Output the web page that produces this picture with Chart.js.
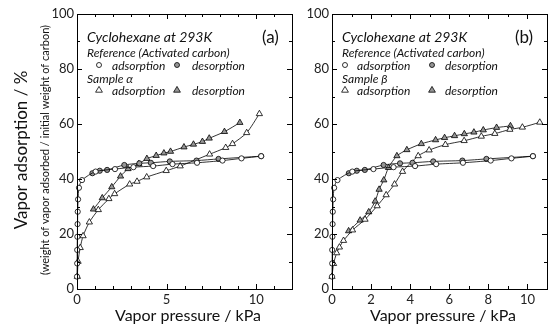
<!DOCTYPE html>
<html>
<head>
<meta charset="utf-8">
<script src="https://cdn.jsdelivr.net/npm/chart.js@4.4.1/dist/chart.umd.min.js"></script>
<style>
  html, body { margin: 0; padding: 0; background: #fff; }
  #wrap { position: relative; width: 553px; height: 329px; }
  #boxA { position: absolute; left: 0; top: 0; width: 305px; height: 329px; }
  #boxB { position: absolute; left: 305px; top: 0; width: 248px; height: 329px; }
</style>
</head>
<body>
<div id="wrap">
  <div id="boxA"><canvas id="chartA" width="305" height="329"></canvas></div>
  <div id="boxB"><canvas id="chartB" width="248" height="329"></canvas></div>
</div>
<script>
// reference activated carbon (same in both panels)
const refAdsP = [0.00, 0.01, 0.01, 0.02, 0.03, 0.04, 0.06, 0.11, 0.28, 1.04, 2.12, 3.15, 4.25, 5.33, 6.70, 8.12, 9.18, 10.28];
const refAdsV = [4.5, 9.3, 14.2, 19.0, 23.6, 28.1, 32.6, 36.8, 39.6, 42.7, 43.6, 44.3, 44.7, 45.4, 45.9, 46.7, 47.5, 48.3];
const refDesP = [10.28, 7.90, 6.67, 5.18, 4.12, 3.48, 2.64, 1.68, 1.27, 0.86];
const refDesV = [48.3, 47.3, 46.7, 46.4, 45.9, 45.7, 45.1, 43.3, 43.0, 42.1];

// sample alpha
const alphaAdsP = [0.02, 0.06, 0.18, 0.34, 0.69, 1.19, 1.78, 2.10, 2.94, 3.35, 3.89, 4.98, 5.76, 7.40, 8.30, 8.68, 9.47, 10.18];
const alphaAdsV = [4.5, 10.0, 15.0, 19.3, 24.3, 28.8, 32.8, 34.6, 38.1, 39.1, 40.7, 43.0, 44.7, 49.0, 51.4, 52.8, 56.8, 63.7];
const alphaDesP = [9.09, 8.23, 7.38, 7.00, 6.50, 5.97, 5.22, 4.85, 4.42, 3.90, 3.45, 2.85, 2.43, 1.94, 1.41, 0.92];
const alphaDesV = [60.5, 57.2, 54.8, 53.6, 52.6, 51.6, 50.0, 49.4, 48.5, 47.4, 45.5, 43.7, 41.0, 37.1, 33.1, 29.0];

// sample beta
const betaAdsP = [0.00, 0.08, 0.24, 0.38, 0.59, 1.05, 1.69, 2.31, 2.77, 3.20, 3.61, 4.41, 4.97, 5.80, 6.76, 7.64, 8.33, 9.10, 9.74, 10.63];
const betaAdsV = [4.5, 9.2, 13.1, 15.2, 17.6, 21.4, 25.3, 30.2, 34.2, 38.1, 42.7, 48.4, 50.5, 52.5, 53.9, 55.5, 56.5, 58.0, 58.8, 60.6];
const betaDesP = [9.13, 8.42, 7.74, 7.26, 6.77, 6.27, 5.76, 5.30, 4.57, 3.83, 3.32, 2.89, 2.65, 2.41, 2.21, 1.88, 1.44, 0.85];
const betaDesV = [59.3, 58.7, 57.8, 57.0, 56.4, 55.7, 55.0, 54.2, 52.8, 50.6, 48.4, 44.1, 39.6, 36.2, 31.9, 28.0, 25.0, 21.1];

const GRAY = 'rgb(150,150,150)';
const FONT = 'Lato';
Chart.defaults.font.family = FONT;

function pts(px, vs) {
    return px.map((p, i) => ({x: p, y: vs[i]}));
}

function series(px, vs, style, fill, r) {
    return {
        data: pts(px, vs),
        showLine: true,
        borderColor: '#000',
        borderWidth: 0.8,
        tension: 0.25,
        pointStyle: style,
        pointRadius: r,
        pointBorderWidth: 0.8,
        pointBorderColor: '#000',
        pointBackgroundColor: fill,
        clip: false
    };
}

// frame + inward ticks on all four sides
const frameTicks = {
    id: 'frameTicks',
    afterDatasetsDraw(chart, args, opts) {
        const {ctx, chartArea: a, scales: {x, y}} = chart;
        ctx.save();
        ctx.strokeStyle = '#000';
        ctx.lineWidth = 1;
        ctx.strokeRect(Math.round(a.left) + 0.5, Math.round(a.top) + 0.5,
            Math.round(a.right - a.left), Math.round(a.bottom - a.top));
        ctx.beginPath();
        for (let v = 0; v <= opts.xMax; v++) {
            const px = Math.round(x.getPixelForValue(v)) + 0.5;
            const len = v % opts.xMajor === 0 ? 5 : 3;
            ctx.moveTo(px, a.bottom); ctx.lineTo(px, a.bottom - len);
            ctx.moveTo(px, a.top); ctx.lineTo(px, a.top + len);
        }
        for (let v = 0; v <= 100; v += 10) {
            const py = Math.round(y.getPixelForValue(v)) + 0.5;
            const len = v % 20 === 0 ? 5 : 3;
            ctx.moveTo(a.left, py); ctx.lineTo(a.left + len, py);
            ctx.moveTo(a.right, py); ctx.lineTo(a.right - len, py);
        }
        ctx.stroke();
        ctx.restore();
    }
};

function marker(ctx, kind, x, y, fill) {
    ctx.beginPath();
    if (kind === 'circle') {
        ctx.arc(x, y, 2.5, 0, Math.PI * 2);
    } else {
        ctx.moveTo(x, y - 3.6);
        ctx.lineTo(x + 3.4, y + 2.2);
        ctx.lineTo(x - 3.4, y + 2.2);
        ctx.closePath();
    }
    ctx.fillStyle = fill;
    ctx.fill();
    ctx.lineWidth = 0.8;
    ctx.strokeStyle = '#000';
    ctx.stroke();
}

// in-plot key and axis titles, positions in canvas px
const notes = {
    id: 'notes',
    afterDraw(chart, args, o) {
        const ctx = chart.ctx;
        ctx.save();
        ctx.fillStyle = '#111';
        ctx.textBaseline = 'middle';
        ctx.textAlign = 'left';
        ctx.font = 'italic 14px ' + FONT;
        ctx.fillText('Cyclohexane at 293K', o.x0, 37);
        ctx.font = '17px ' + FONT;
        ctx.fillText(o.tag, o.tagX, 38);
        ctx.font = 'italic 12px ' + FONT;
        ctx.fillText('Reference (Activated carbon)', o.x0, 53);
        ctx.fillText(o.sample, o.x0, 79);
        ctx.fillText('adsorption', o.x1, 66);
        ctx.fillText('desorption', o.x3, 66);
        ctx.fillText('adsorption', o.x1, 91);
        ctx.fillText('desorption', o.x3, 91);
        marker(ctx, 'circle', o.m1, 65, '#fff');
        marker(ctx, 'circle', o.m2, 65, GRAY);
        marker(ctx, 'tri', o.m1, 90, '#fff');
        marker(ctx, 'tri', o.m2, 90, GRAY);

        ctx.fillStyle = '#111';
        ctx.textAlign = 'center';
        ctx.font = '16px ' + FONT;
        ctx.fillText('Vapor pressure / kPa', o.xt, 316);
        if (o.yTitle) {
            ctx.translate(22, 150);
            ctx.rotate(-Math.PI / 2);
            ctx.font = '17px ' + FONT;
            ctx.fillText('Vapor adsorption / %', 0, 0);
            ctx.font = '11px ' + FONT;
            ctx.fillText('(weight of vapor adsorbed / initial weight of carbon)', 0, 23);
        }
        ctx.restore();
    }
};

function makeChart(id, sample, xMax, xMajor, yWidth, padRight, notesOpts) {
    return new Chart(document.getElementById(id), {
        type: 'scatter',
        data: {
            datasets: [
                series(refAdsP, refAdsV, 'circle', '#fff', 2.6),
                series(refDesP, refDesV, 'circle', GRAY, 2.6),
                series(sample.adsP, sample.adsV, 'triangle', '#fff', 3.6),
                series(sample.desP, sample.desV, 'triangle', GRAY, 3.6)
            ]
        },
        options: {
            responsive: false,
            animation: false,
            devicePixelRatio: 1,
            layout: {padding: {top: 14, right: padRight, left: 0, bottom: 0}},
            plugins: {
                legend: {display: false},
                tooltip: {enabled: false},
                frameTicks: {xMax: xMax, xMajor: xMajor},
                notes: notesOpts
            },
            scales: {
                x: {
                    type: 'linear', min: 0, max: xMax,
                    grid: {display: false, drawTicks: false},
                    border: {display: false},
                    afterFit: (s) => { s.height = 40; },
                    ticks: {
                        stepSize: 1, padding: 3, maxRotation: 0, autoSkip: false,
                        color: '#222', font: {size: 13},
                        callback: (v) => (v % xMajor === 0 ? String(v) : '')
                    }
                },
                y: {
                    type: 'linear', min: 0, max: 100,
                    grid: {display: false, drawTicks: false},
                    border: {display: false},
                    afterFit: (s) => { s.width = yWidth; },
                    ticks: {
                        stepSize: 10, padding: 3, autoSkip: false,
                        color: '#222', font: {size: 13},
                        callback: (v) => (v % 20 === 0 ? String(v) : '')
                    }
                }
            }
        },
        plugins: [frameTicks, notes]
    });
}

makeChart('chartA',
    {adsP: alphaAdsP, adsV: alphaAdsV, desP: alphaDesP, desV: alphaDesV},
    12, 5, 77, 13,
    {x0: 87, tag: '(a)', tagX: 262, sample: 'Sample \u03b1', x1: 112, x3: 192, m1: 99, m2: 177, xt: 188, yTitle: true});

makeChart('chartB',
    {adsP: betaAdsP, adsV: betaAdsV, desP: betaDesP, desV: betaDesV},
    11, 2, 27, 6,
    {x0: 37, tag: '(b)', tagX: 210, sample: 'Sample \u03b2', x1: 52, x3: 140, m1: 40, m2: 127, xt: 138, yTitle: false});
</script>
</body>
</html>
